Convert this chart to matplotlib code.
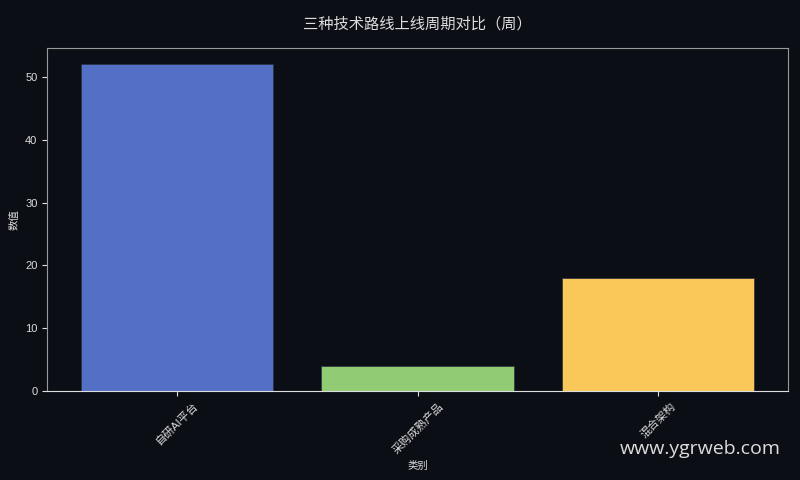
import matplotlib
matplotlib.use('Agg')
import matplotlib.pyplot as plt

plt.rcParams['font.family'] = ['Liberation Sans', 'Noto Sans CJK SC', 'DejaVu Sans']

# data
categories = ['自研AI平台', '采购成熟产品', '混合架构']
weeks = [52, 4, 18]
colors = ['#5470c6', '#91cc75', '#fac858']

bg = '#0b0e14'
fg = '#dddddd'

fig = plt.figure(figsize=(8, 4.8), dpi=100, facecolor=bg)
ax = fig.add_axes([0.059, 0.185, 0.926, 0.715], facecolor=bg)

ax.bar(categories, weeks, color=colors, width=0.8,
       edgecolor='#2a3040', linewidth=0.5)

ax.set_title('三种技术路线上线周期对比（周）', color=fg, fontsize=11, pad=14,
             family=['Noto Sans CJK SC', 'DejaVu Sans'])
ax.set_xlabel('类别', color=fg, fontsize=7.5)
ax.set_ylabel('数值', color=fg, fontsize=7.5)

ax.tick_params(colors=fg, labelsize=8)
plt.setp(ax.get_xticklabels(), rotation=45)
for side in ['left', 'top', 'right']:
    ax.spines[side].set_color('#999999')
ax.spines['bottom'].set_color('#dddddd')

fig.text(0.976, 0.065, 'www.ygrweb.com', color=fg, fontsize=14,
         ha='right', va='center', family=['Open Sans', 'DejaVu Sans'])

fig.savefig('out.png', facecolor=bg)
